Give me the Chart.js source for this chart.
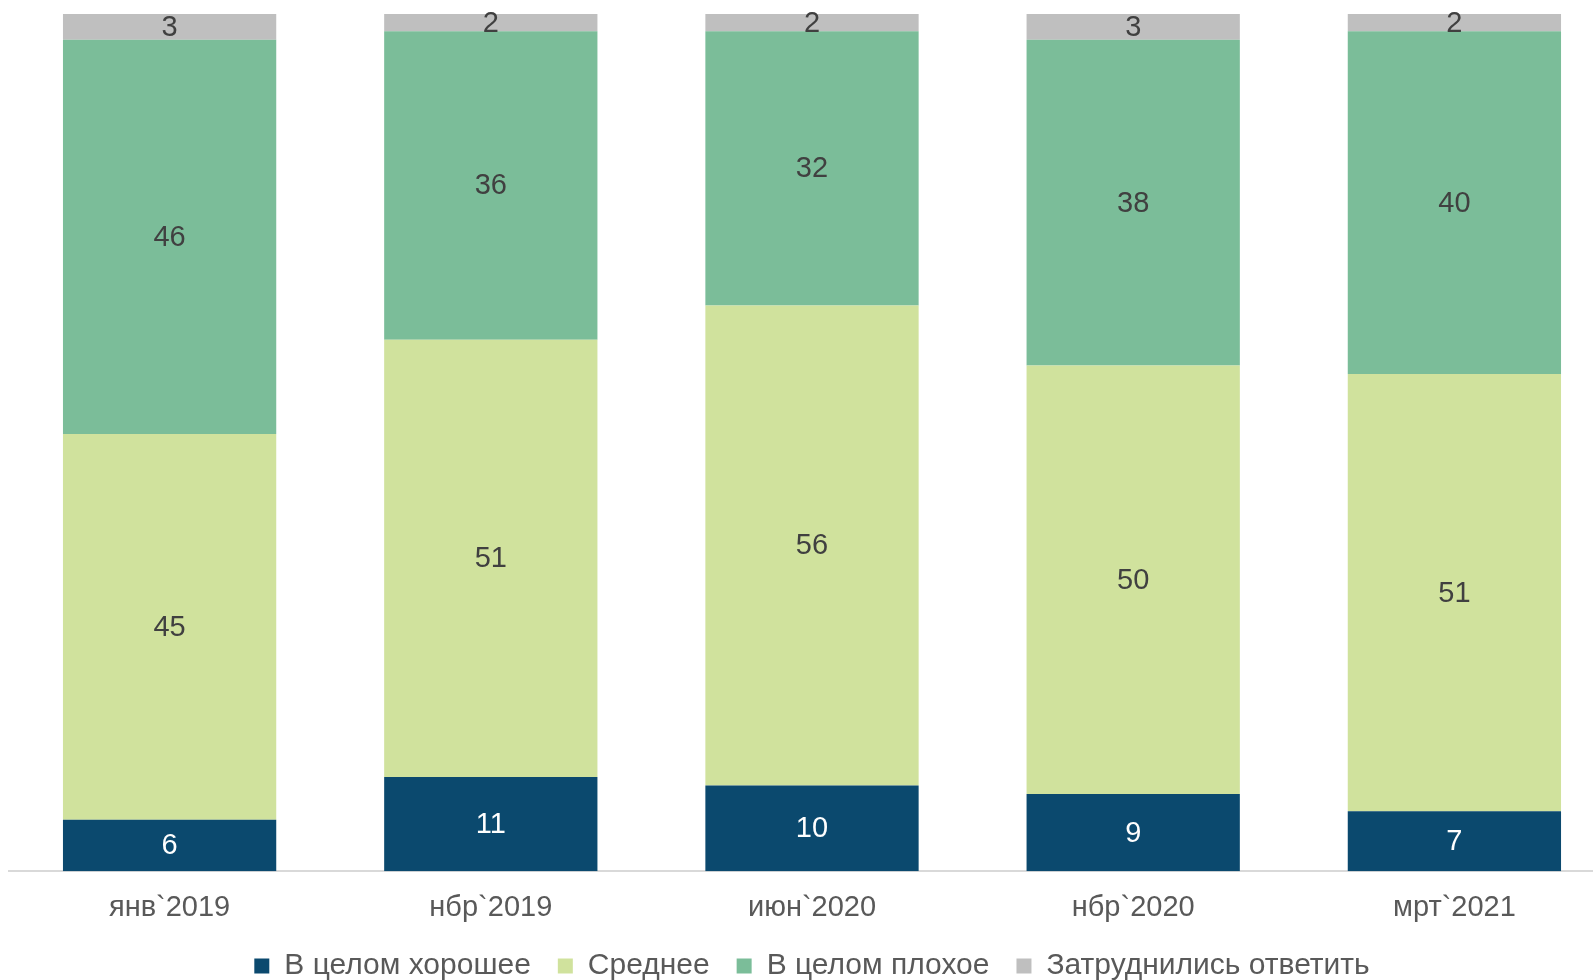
<!DOCTYPE html>
<html><head><meta charset="utf-8">
<script src="https://cdn.jsdelivr.net/npm/chart.js@4"></script>
<style>
html,body{margin:0;padding:0;background:#fff;overflow:hidden;width:1593px;height:980px}
#wrap{width:1625px;height:980px;position:relative}
</style></head>
<body><div id="wrap"><canvas id="c"></canvas></div>
<script>
const categories = ["янв`2019","нбр`2019","июн`2020","нбр`2020","мрт`2021"];
const seriesNames = ["В целом хорошее","Среднее","В целом плохое","Затруднились ответить"];
const good = [6,11,10,9,7];
const average = [45,51,56,50,51];
const bad = [46,36,32,38,40];
const noAnswer = [3,2,2,3,2];
const colors = ["#0B496E","#D0E29D","#7BBD99","#BFBFBF"];
const labelColors = ["#FFFFFF","#404040","#404040","#404040"];

const FONT = "'Liberation Sans', Arial, sans-serif";

const labelPlugin = {
  id:'segLabels',
  afterDatasetsDraw(chart){
    const ctx = chart.ctx;
    chart.data.datasets.forEach((ds,i)=>{
      const meta = chart.getDatasetMeta(i);
      meta.data.forEach((el,j)=>{
        const v = ds.data[j];
        const cy = (el.y + el.base)/2;
        ctx.save();
        ctx.font = "29px " + FONT;
        ctx.fillStyle = labelColors[i];
        ctx.textAlign='center'; ctx.textBaseline='middle';
        ctx.fillText(String(v), el.x, cy+1);
        ctx.restore();
      });
    });
  }
};

const dsVals = [good, average, bad, noAnswer];
new Chart(document.getElementById('c'),{
  type:'bar',
  data:{
    labels:categories,
    datasets: dsVals.map((d,i)=>({label:seriesNames[i],data:d,backgroundColor:colors[i],borderWidth:0,barPercentage:0.664,categoryPercentage:1}))
  },
  options:{
    responsive:true, maintainAspectRatio:false, animation:false,
    layout:{padding:{left:9,right:10,top:14,bottom:-11}},
    scales:{
      x:{stacked:true, grid:{display:false, drawTicks:false}, border:{color:'#D9D9D9',width:2},
         ticks:{color:'#595959',font:{family:FONT,size:29},padding:19},
         afterFit(scale){ scale.height -= 20; }},
      y:{stacked:true, display:false, min:0, max:100}
    },
    plugins:{
      legend:{position:'bottom', labels:{color:'#595959',font:{family:FONT,size:30},boxWidth:15,boxHeight:15,padding:27}},
      tooltip:{enabled:false}
    }
  },
  plugins:[labelPlugin]
});
</script></body></html>
